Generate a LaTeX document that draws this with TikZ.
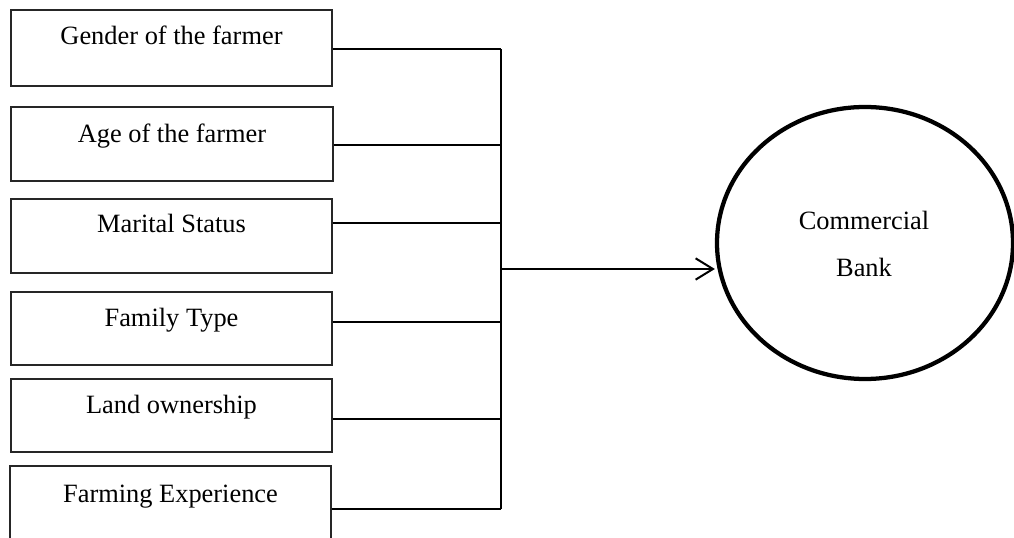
\documentclass[tikz,border=0pt]{standalone}
\usepackage{fontspec}
\setmainfont{Liberation Serif}
\usetikzlibrary{arrows.meta,shapes.geometric}
\begin{document}
\begin{tikzpicture}[x=0.75pt,y=-0.75pt,
  box/.style={draw=black!85,line width=1.1pt,rectangle,minimum width=321*0.75pt,inner sep=0pt},
  lbl/.style={anchor=base,font=\fontsize{19.8pt}{24pt}\selectfont,inner sep=0pt},
  wire/.style={line width=1.5pt},
  bank/.style={draw,ellipse,line width=3.2pt,minimum width=296*0.75pt,minimum height=272*0.75pt,inner sep=0pt}]
\useasboundingbox (0,0) rectangle (1014,538);
\clip (0,0) rectangle (1014,538);
% boxes
\node[box,minimum height=76*0.75pt] (b1) at (171.5,48) {};
\node[box,minimum width=322*0.75pt,minimum height=74*0.75pt] (b2) at (172,144) {};
\node[box,minimum height=74*0.75pt] (b3) at (171.5,236) {};
\node[box,minimum height=73*0.75pt] (b4) at (171.5,328.5) {};
\node[box,minimum height=73*0.75pt] (b5) at (171.5,415.5) {};
\node[box,minimum height=76*0.75pt] (b6) at (170.5,504) {};
% labels
\node[lbl] (t1) at (171.5,45) {Gender of the farmer};
\node[lbl] (t2) at (172,143) {Age of the farmer};
\node[lbl] (t3) at (171.5,233) {Marital Status};
\node[lbl] (t4) at (171.5,327) {Family Type};
\node[lbl] (t5) at (171.5,413) {Land ownership};
\node[lbl] (t6) at (170.5,502) {Farming Experience};
% bank
\node[bank] (c) at (865,243) {};
\node[lbl] (c1) at (864,230) {Commercial};
\node[lbl] (c2) at (864,277) {Bank};
% junctions on the bus
\coordinate (j1) at (501,49);
\coordinate (j2) at (501,145);
\coordinate (j3) at (501,223);
\coordinate (j4) at (501,322);
\coordinate (j5) at (501,419);
\coordinate (j6) at (501,509);
\coordinate (hub) at (501,269);
% connectors
\draw[wire] (j1 -| b1.east) -- (j1);
\draw[wire] (j2 -| b2.east) -- (j2);
\draw[wire] (j3 -| b3.east) -- (j3);
\draw[wire] (j4 -| b4.east) -- (j4);
\draw[wire] (j5 -| b5.east) -- (j5);
\draw[wire] (j6 -| b6.east) -- (j6);
\draw[wire] (j1) -- (j6);
\draw[wire,-{Straight Barb[length=13pt,width=16pt,line width=1.5pt]}] (hub) -- (hub -| c.west);
\end{tikzpicture}
\end{document}
